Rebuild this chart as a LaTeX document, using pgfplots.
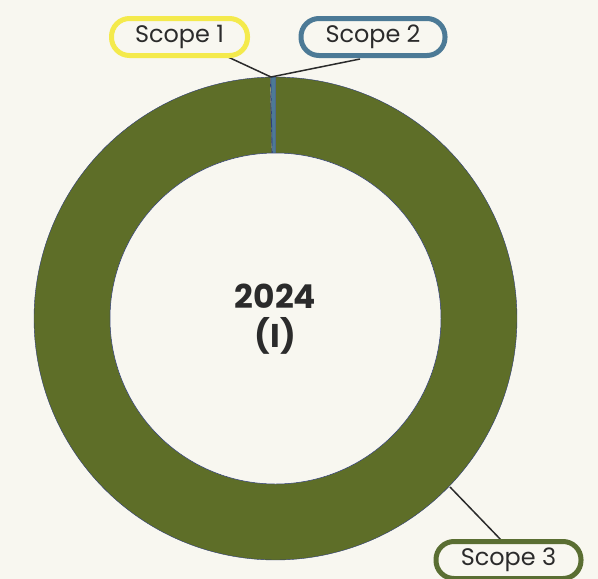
\documentclass[border=0pt]{standalone}
\usepackage{pgfplots}
\pgfplotsset{compat=1.18}
\usepackage{pgfplotstable}
\usepackage{fontspec}
\setmainfont{Poppins}
\definecolor{bg}{RGB}{248,247,240}
\definecolor{sgreen}{RGB}{94,110,40}
\definecolor{syellow}{RGB}{244,234,76}
\definecolor{sblue}{RGB}{76,122,150}
\definecolor{navy}{RGB}{46,60,120}
\definecolor{txt}{RGB}{43,43,43}
\definecolor{boxgreen}{RGB}{90,110,50}

\pgfplotstableread{
label value
S1 0.05
S2 0.30
S3 99.65
}\scopedata

\begin{document}
\begin{tikzpicture}
\pgfplotstablegetelem{0}{value}\of\scopedata \let\vA\pgfplotsretval
\pgfplotstablegetelem{1}{value}\of\scopedata \let\vB\pgfplotsretval
\pgfmathsetmacro{\tA}{-90-(\vA+\vB)*3.6}
\pgfmathsetmacro{\tB}{\tA+\vA*3.6}
\pgfmathsetmacro{\tC}{-90}
\pgfmathsetmacro{\tD}{\tA+360}
\useasboundingbox (0,0) rectangle (598bp,579bp);
\fill[bg] (0,0) rectangle (598bp,579bp);
\begin{axis}[at={(0,0)}, anchor=south west, x=1bp, y=1bp,
  xmin=0, xmax=598, ymin=0, ymax=579, y dir=reverse,
  hide axis, clip=false]
% Scope 3
\addplot[fill=sgreen, draw=navy, line width=0.4pt, domain=\tC:\tD, samples=361, variable=\t]
  ({275.5+241.5*cos(\t)},{318.5+241.5*sin(\t)}) -- (axis cs:275.5,318.5) -- cycle;
% Scope 1
\addplot[fill=syellow, draw=navy, line width=0.3pt, domain=\tA:\tB, samples=3, variable=\t]
  ({275.5+241.5*cos(\t)},{318.5+241.5*sin(\t)}) -- (axis cs:275.5,318.5) -- cycle;
% Scope 2
\addplot[fill=sblue, draw=navy, line width=0.3pt, domain=\tB:\tC, samples=3, variable=\t]
  ({275.5+241.5*cos(\t)},{318.5+241.5*sin(\t)}) -- (axis cs:275.5,318.5) -- cycle;
% hole
\addplot[fill=bg, draw=navy, line width=0.5pt, domain=0:360, samples=361, variable=\t]
  ({275.5+165.5*cos(\t)},{318.5+165.5*sin(\t)}) -- cycle;
% leader lines
\draw[txt, line width=1.5bp] (axis cs:228,57) -- (axis cs:271,77);
\draw[txt, line width=1.5bp] (axis cs:360,59) -- (axis cs:271,77);
\draw[txt, line width=1.5bp] (axis cs:450,487) -- (axis cs:503,542);
% labels
\node[draw=syellow, line width=5bp, rounded corners=18bp, fill=bg, minimum width=136bp, minimum height=37bp, inner sep=0pt, text=txt, font=\fontsize{24}{28}\selectfont] at (axis cs:179.5,37) {\raisebox{-2bp}{Scope 1}};
\node[draw=sblue, line width=5bp, rounded corners=18bp, fill=bg, minimum width=144bp, minimum height=37bp, inner sep=0pt, text=txt, font=\fontsize{24}{28}\selectfont] at (axis cs:373,37) {\raisebox{-2bp}{Scope 2}};
\node[draw=boxgreen, line width=5bp, rounded corners=18bp, fill=bg, minimum width=145bp, minimum height=37bp, inner sep=0pt, text=txt, font=\fontsize{24}{28}\selectfont] at (axis cs:508.5,560) {\raisebox{-2bp}{Scope 3}};
\node[align=center, text=txt, font=\fontsize{33}{39}\selectfont\bfseries] at (axis cs:275.5,319) {2024\\(I)};
\end{axis}
\end{tikzpicture}
\end{document}
